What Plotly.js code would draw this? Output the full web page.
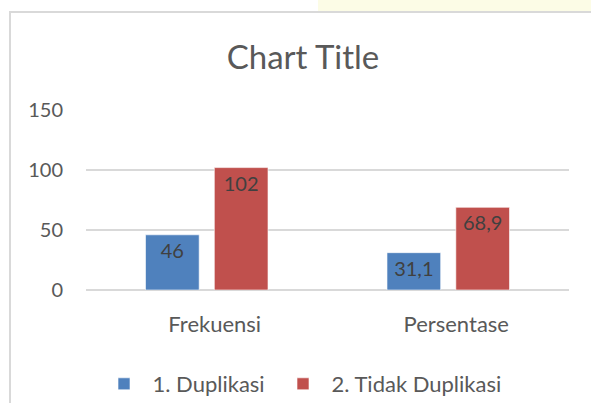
<!DOCTYPE html>
<html>
<head>
<meta charset="utf-8">
<script src="https://cdn.plot.ly/plotly-3.0.1.min.js"></script>
<style>
  html, body { margin: 0; padding: 0; background: #ffffff; overflow: hidden; }
  #band { position: absolute; left: 318px; top: 0; width: 280px; height: 11px; background: #FCFCE6; }
  #frame { position: absolute; left: 9px; top: 11px; width: 700px; height: 600px;
           border: 2px solid #D9D9D9; box-sizing: border-box; }
  #chart { position: absolute; left: 0; top: 0; width: 591px; height: 403px; }
</style>
</head>
<body>
<div id="band"></div>
<div id="frame"></div>
<div id="chart"></div>
<script>
// ---- data ----
const categories = ["Frekuensi", "Persentase"];
const seriesNames = ["1. Duplikasi", "2. Tidak Duplikasi"];
const duplikasi = [46, 31.1];
const tidakDuplikasi = [102, 68.9];
const yTicks = [0, 50, 100, 150];

const fmt = v => String(v).replace('.', ',');
const FONT = 'Lato, "Open Sans", sans-serif';

function barTrace(name, values, color, legendId) {
  return {
    type: 'bar',
    name: name,
    legend: legendId,
    x: categories,
    y: values,
    text: values.map(fmt),
    textposition: 'inside',
    insidetextanchor: 'end',
    constraintext: 'none',
    textfont: { family: FONT, size: 20, color: '#404040' },
    marker: { color: color, line: { color: 'rgba(255,255,255,0.6)', width: 1 } },
    hoverinfo: 'x+y'
  };
}

const data = [
  barTrace(seriesNames[0], duplikasi, '#4F81BD', 'legend'),
  barTrace(seriesNames[1], tidakDuplikasi, '#C0504D', 'legend2')
];

function legendAt(left) {
  return {
    orientation: 'h',
    xref: 'container', yref: 'container',
    x: left / 591, xanchor: 'left',
    y: 1 - 384 / 403, yanchor: 'middle',
    itemwidth: 47,
    font: { family: FONT, size: 22, color: '#595959' },
    bgcolor: 'rgba(0,0,0,0)'
  };
}

const layout = {
  width: 591,
  height: 403,
  margin: { l: 86, r: 22, t: 110, b: 113, pad: 0, autoexpand: false },
  paper_bgcolor: 'rgba(0,0,0,0)',
  plot_bgcolor: 'rgba(0,0,0,0)',
  font: { family: FONT, color: '#595959' },
  title: {
    text: 'Chart Title',
    font: { family: FONT, size: 33, color: '#595959' },
    xref: 'container', yref: 'container',
    x: 303 / 591, xanchor: 'center',
    y: 1 - 57 / 403, yanchor: 'middle'
  },
  barmode: 'group',
  bargap: 0.43,
  bargroupgap: 0.22,
  xaxis: {
    type: 'category',
    showgrid: false,
    showline: false,
    zeroline: false,
    ticks: '',
    tickfont: { family: FONT, size: 22, color: '#595959' },
    ticklabelstandoff: 19,
    ticklabelshift: 8,
    automargin: false
  },
  yaxis: {
    range: [0, 150],
    tickvals: yTicks,
    ticktext: yTicks.map(String),
    showgrid: true,
    gridcolor: '#D9D9D9',
    gridwidth: 1.5,
    zeroline: true,
    zerolinecolor: '#D9D9D9',
    zerolinewidth: 1.5,
    showline: false,
    ticks: '',
    tickfont: { family: FONT, size: 20, color: '#595959' },
    ticklabelstandoff: 22,
    automargin: false
  },
  showlegend: true,
  legend: legendAt(95.5),
  legend2: legendAt(274.5)
};

Plotly.newPlot('chart', data, layout, { displayModeBar: false, staticPlot: true });
</script>
</body>
</html>
